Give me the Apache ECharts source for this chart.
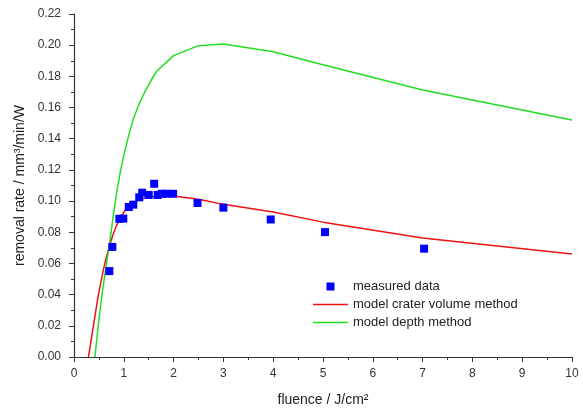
<!DOCTYPE html>
<html>
<head>
<meta charset="utf-8">
<script src="https://cdn.jsdelivr.net/npm/echarts@6/dist/echarts.min.js"></script>
<style>html,body{margin:0;padding:0;background:#fff}#c{width:583px;height:412px}</style>
</head>
<body>
<div id="c"></div>
<script>
const measuredX = [0.71, 0.77, 0.91, 0.99, 1.10, 1.19, 1.31, 1.37, 1.50, 1.61, 1.68, 1.76, 1.86, 1.99, 2.48, 3.00, 3.95, 5.04, 7.03];
const measuredY = [0.0551, 0.0706, 0.0886, 0.0888, 0.0962, 0.0977, 0.1024, 0.1054, 0.1039, 0.1111, 0.1039, 0.1047, 0.1047, 0.1047, 0.0988, 0.0958, 0.0882, 0.0801, 0.0695];
const craterX = [0.29, 0.34, 0.39, 0.44, 0.49, 0.54, 0.59, 0.65, 0.72, 0.79, 0.86, 0.95, 1.06, 1.19, 1.33, 1.5, 1.66, 2.0, 2.5, 3.0, 4.0, 5.0, 7.0, 10];
const craterY = [0.0, 0.010, 0.020, 0.030, 0.040, 0.048, 0.056, 0.064, 0.072, 0.079, 0.0848, 0.0905, 0.0954, 0.0990, 0.1012, 0.1024, 0.1029, 0.1032, 0.1012, 0.0979, 0.0930, 0.0865, 0.0763, 0.0660];
const depthX = [0.42, 0.49, 0.55, 0.62, 0.72, 0.79, 0.86, 0.92, 0.99, 1.09, 1.19, 1.31, 1.43, 1.55, 1.66, 2.0, 2.5, 3.0, 4.0, 5.0, 7.0, 10];
const depthY = [0.0, 0.021, 0.037, 0.053, 0.074, 0.091, 0.106, 0.117, 0.128, 0.141, 0.1526, 0.1625, 0.1706, 0.1775, 0.1833, 0.1933, 0.1997, 0.2007, 0.1958, 0.1875, 0.1712, 0.1520];
const seriesNames = ['measured data', 'model crater volume method', 'model depth method'];

const zip = (xs, ys) => xs.map((x, i) => [x, ys[i]]);
const chart = echarts.init(document.getElementById('c'));
const axisCol = '#333';
const font = 'Liberation Sans, Arial, sans-serif';
chart.setOption({
  animation: false,
  grid: {left: 74, right: 11, top: 14, bottom: 52},
  legend: {
    orient: 'vertical', left: 308, top: 275, itemGap: 5,
    itemWidth: 35, itemHeight: 8,
    textStyle: {fontFamily: font, fontSize: 13, color: '#222'},
    data: [
      {name: seriesNames[0], icon: 'path://M0,0h1v1h-1z'},
      {name: seriesNames[1], icon: 'path://M0,0h35v1.6h-35z'},
      {name: seriesNames[2], icon: 'path://M0,0h35v1.6h-35z'}
    ]
  },
  xAxis: {
    type: 'value', min: 0, max: 10, interval: 1,
    name: 'fluence / J/cm²', nameLocation: 'middle', nameGap: 36,
    nameTextStyle: {fontFamily: font, fontSize: 14, color: '#222'},
    axisLine: {lineStyle: {color: axisCol, width: 1.2}},
    axisTick: {inside: false, length: 5, lineStyle: {color: axisCol}},
    minorTick: {show: true, splitNumber: 2, length: 3, lineStyle: {color: axisCol}},
    splitLine: {show: false},
    axisLabel: {fontFamily: font, fontSize: 12, color: '#333', margin: 11}
  },
  yAxis: {
    type: 'value', min: 0, max: 0.22, interval: 0.02,
    name: 'removal rate / mm³/min/W', nameLocation: 'middle', nameGap: 36,
    nameTextStyle: {fontFamily: font, fontSize: 14, color: '#222'},
    axisLine: {show: true, lineStyle: {color: axisCol, width: 1.2}},
    axisTick: {show: true, inside: false, length: 5, lineStyle: {color: axisCol}},
    minorTick: {show: true, splitNumber: 2, length: 3, lineStyle: {color: axisCol}},
    splitLine: {show: false},
    axisLabel: {fontFamily: font, fontSize: 12, color: '#333', margin: 13,
      formatter: v => v.toFixed(2)}
  },
  series: [
    {name: seriesNames[0], type: 'scatter', symbol: 'rect', symbolSize: 8,
     itemStyle: {color: '#0000ff', opacity: 1}, data: zip(measuredX, measuredY), z: 5},
    {name: seriesNames[1], type: 'line', showSymbol: false, symbol: 'none', smooth: false,
     lineStyle: {color: '#ee1111', width: 1.5}, itemStyle: {color: '#ee1111'},
     data: zip(craterX, craterY)},
    {name: seriesNames[2], type: 'line', showSymbol: false, symbol: 'none', smooth: false,
     lineStyle: {color: '#22dd22', width: 1.5}, itemStyle: {color: '#22dd22'},
     data: zip(depthX, depthY)}
  ]
});
</script>
</body>
</html>
